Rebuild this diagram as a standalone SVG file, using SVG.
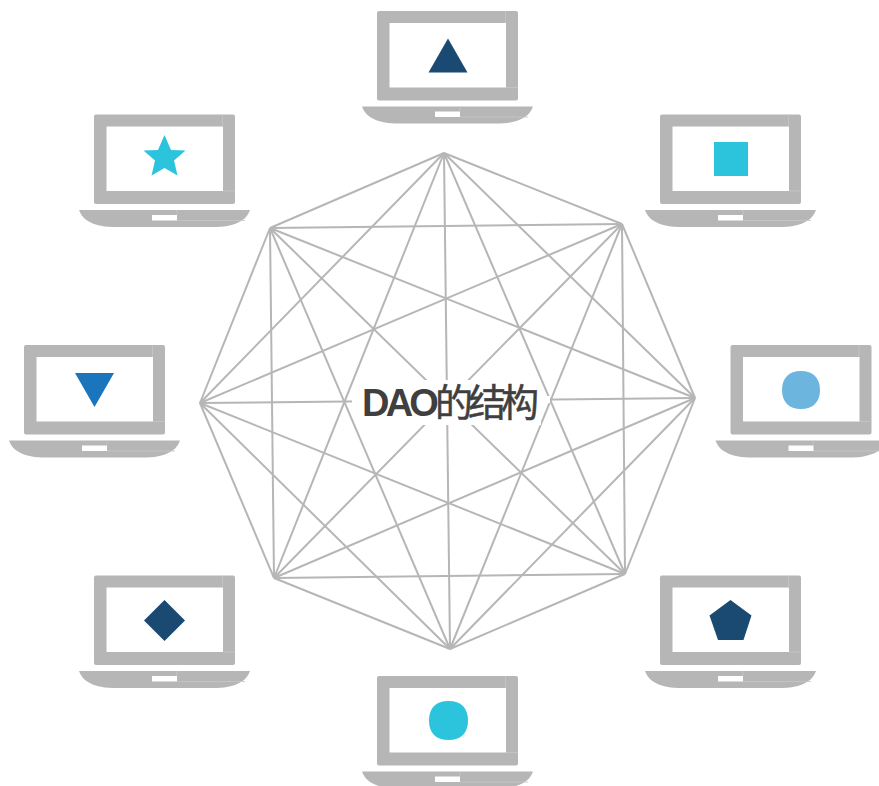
<svg xmlns="http://www.w3.org/2000/svg" xmlns:xlink="http://www.w3.org/1999/xlink" width="879" height="786" viewBox="0 0 879 786">
<style>
.c line{stroke:#b6b6b7;stroke-width:2;fill:none}
.g{fill:#b6b6b7}
.s{stroke:#c6c6c7;stroke-width:.8;fill:none}
.dk{fill:#1a4a72}.cy{fill:#2cc3dd}.md{fill:#1b75bc}.lt{fill:#6bb5df}
.t{font-family:"Liberation Sans","Noto Sans CJK SC",sans-serif;font-size:38px;fill:#3f3f3f}
.la{font-weight:700;letter-spacing:-3.800px}
.zh{letter-spacing:-5px;stroke:#3f3f3f;stroke-width:.5}
</style>
<defs>
<g id="laptop">
<path class="g" fill-rule="evenodd" d="M379 11H516a2 2 0 0 1 2 2V98.500a2 2 0 0 1-2 2H379a2 2 0 0 1-2-2V13a2 2 0 0 1 2-2ZM389.500 23V87.500H506V23Z"/>
<path class="g" fill-rule="evenodd" d="M362 106.500H533C530 115 523 120 510 122.500Q505 123.500 495 123.500H400Q390 123.500 385 122.500C372 120 365 115 362 106.500ZM435 111.500V117H460V111.500Z"/>
<path class="s" d="M505.500 11V23M506 87.500H518M460 106.500V111.500M460 117H528"/>
</g>
</defs>
<g id="connectors" class="c">
<line x1="444" y1="153" x2="622" y2="224"/><line x1="444" y1="153" x2="695" y2="398"/><line x1="444" y1="153" x2="625" y2="574"/><line x1="444" y1="153" x2="450" y2="649"/><line x1="444" y1="153" x2="274" y2="578"/><line x1="444" y1="153" x2="200" y2="403"/><line x1="444" y1="153" x2="270" y2="228"/>
<line x1="622" y1="224" x2="695" y2="398"/><line x1="622" y1="224" x2="625" y2="574"/><line x1="622" y1="224" x2="450" y2="649"/><line x1="622" y1="224" x2="274" y2="578"/><line x1="622" y1="224" x2="200" y2="403"/><line x1="622" y1="224" x2="270" y2="228"/>
<line x1="695" y1="398" x2="625" y2="574"/><line x1="695" y1="398" x2="450" y2="649"/><line x1="695" y1="398" x2="274" y2="578"/><line x1="695" y1="398" x2="200" y2="403"/><line x1="695" y1="398" x2="270" y2="228"/>
<line x1="625" y1="574" x2="450" y2="649"/><line x1="625" y1="574" x2="274" y2="578"/><line x1="625" y1="574" x2="200" y2="403"/><line x1="625" y1="574" x2="270" y2="228"/>
<line x1="450" y1="649" x2="274" y2="578"/><line x1="450" y1="649" x2="200" y2="403"/><line x1="450" y1="649" x2="270" y2="228"/>
<line x1="274" y1="578" x2="200" y2="403"/><line x1="274" y1="578" x2="270" y2="228"/>
<line x1="200" y1="403" x2="270" y2="228"/>
</g>
<g id="center-label">
<path fill="#fff" d="M356 380H541V396H550V403H541V425H356V406H352V399H356Z"/>
<text class="t" x="362" y="416"><tspan class="la">DAO</tspan><tspan class="zh">的结构</tspan></text>
</g>
<g id="node-top"><use href="#laptop"/><polygon class="dk" points="428.500,72.500 467.500,72.500 448,38.500"/></g>
<g id="node-upper-right"><use href="#laptop" x="283" y="103.500"/><rect class="cy" x="714" y="142" width="34" height="34"/></g>
<g id="node-right"><use href="#laptop" x="353.500" y="334"/><path class="lt" d="M801 371C813 371 820 378 820 390C820 402 813 409 801 409C789 409 782 402 782 390C782 378 789 371 801 371Z"/></g>
<g id="node-lower-right"><use href="#laptop" x="283" y="564.500"/><polygon class="dk" points="730.500,600 751.500,615.500 743.500,640 718,640 709.500,615.500"/></g>
<g id="node-bottom"><use href="#laptop" y="665"/><path class="cy" d="M448.500 701C461 701 468 708 468 720.500C468 733 461 740 448.500 740C436 740 429 733 429 720.500C429 708 436 701 448.500 701Z"/></g>
<g id="node-lower-left"><use href="#laptop" x="-283" y="564.500"/><polygon class="dk" points="164.500,600 185,620.500 164.500,641 144,620.500"/></g>
<g id="node-left"><use href="#laptop" x="-353" y="334"/><polygon class="md" points="75,373 114,373 94.500,407"/></g>
<g id="node-upper-left"><use href="#laptop" x="-283" y="103.500"/><polygon class="cy" points="164.500,135 171,150 185.500,150.500 174,160.500 177.500,175.500 164.500,168 151.500,175.500 155,160.500 143.500,150.500 158,150"/></g>
</svg>
